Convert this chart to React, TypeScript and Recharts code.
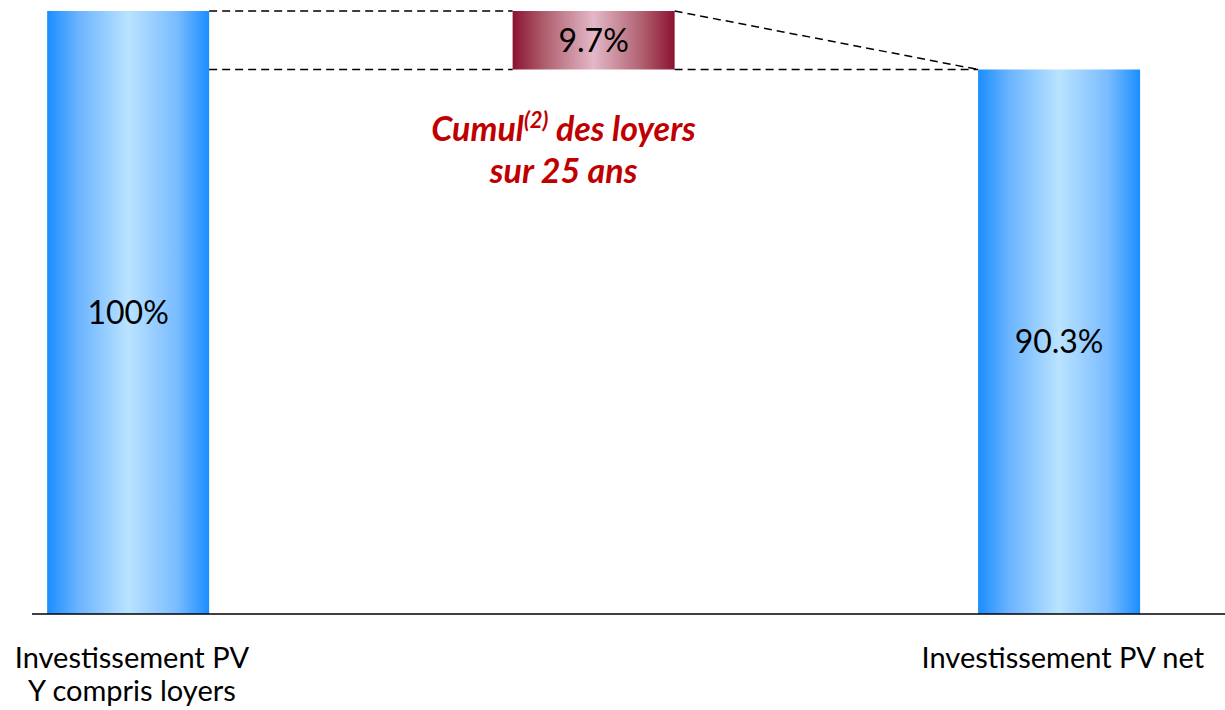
import { BarChart, Bar, XAxis, YAxis, LabelList } from 'recharts';

const CATEGORIES = ['Investissement PV\nY compris loyers', '', 'Investissement PV net'];
const BASES = [0, 90.3, 0];
const VALUES = [100, 9.7, 90.3];
const FILLS = ['blueBar', 'redBar', 'blueBar'];
const NOTE_TOP = ['Cumul', '(2)', ' des loyers'];
const NOTE_BOTTOM = 'sur 25 ans';

const W = 1225;
const H = 710;
const LEFT = 32;
const PLOT_W = W - LEFT;
const X_DOMAIN: [number, number] = [-0.206, 2.357];
const STEP = PLOT_W / (X_DOMAIN[1] - X_DOMAIN[0]);
const FONT = 'Lato, "Open Sans", sans-serif';

const data = CATEGORIES.map((name, i) => ({
  x: i,
  name,
  base: BASES[i],
  value: VALUES[i],
}));

function StepBar(props: any) {
  const { x, y, width, height, index } = props;
  const gap = STEP - width;
  const noteX = x + width / 2 - 30;
  return (
    <g>
      <rect x={x} y={y} width={width} height={height} fill={`url(#${FILLS[index]})`} />
      {index === 1 && (
        <g>
          <g stroke="#000" strokeWidth={1.5} strokeDasharray="8 5" fill="none">
            <line x1={x - gap} y1={y} x2={x} y2={y} />
            <line x1={x - gap} y1={y + height} x2={x} y2={y + height} />
            <line x1={x + width} y1={y + height} x2={x + width + gap} y2={y + height} />
            <line x1={x + width} y1={y} x2={x + width + gap} y2={y + height} />
          </g>
          <text
            x={noteX}
            y={y + height + 72}
            textAnchor="middle"
            fill="#C00000"
            fontFamily={FONT}
            fontWeight="bold"
            fontStyle="italic"
            fontSize={34}
          >
            <tspan>{NOTE_TOP[0]}</tspan>
            <tspan fontSize={22} dy={-13}>{NOTE_TOP[1]}</tspan>
            <tspan dy={13}>{NOTE_TOP[2]}</tspan>
          </text>
          <text
            x={noteX}
            y={y + height + 114}
            textAnchor="middle"
            fill="#C00000"
            fontFamily={FONT}
            fontWeight="bold"
            fontStyle="italic"
            fontSize={34}
          >
            {NOTE_BOTTOM}
          </text>
        </g>
      )}
    </g>
  );
}

function CategoryTick(props: any) {
  const { x, y, payload } = props;
  const lines = String(CATEGORIES[payload.value] ?? '').split('\n');
  return (
    <text x={x} y={y} textAnchor="middle" fill="#000" fontFamily={FONT} fontSize={29}>
      {lines.map((line, i) => (
        <tspan key={i} x={x + 4} dy={i === 0 ? 46 : 33}>
          {line}
        </tspan>
      ))}
    </text>
  );
}

export default function App() {
  return (
    <div style={{ position: 'absolute', left: 0, top: 0, width: W, height: H, background: '#fff', fontFamily: FONT }}>
      <BarChart width={W} height={H} data={data} margin={{ top: 11, right: 0, left: LEFT, bottom: 0 }}>
        <defs>
          <linearGradient id="blueBar" x1="0" y1="0" x2="1" y2="0">
            <stop offset="0" stopColor="#1A8EFF" />
            <stop offset="0.2" stopColor="#6DB5FF" />
            <stop offset="0.5" stopColor="#BAE3FF" />
            <stop offset="0.8" stopColor="#7ABCFF" />
            <stop offset="1" stopColor="#1A8EFF" />
          </linearGradient>
          <linearGradient id="redBar" x1="0" y1="0" x2="1" y2="0">
            <stop offset="0" stopColor="#8C1232" />
            <stop offset="0.2" stopColor="#B0606F" />
            <stop offset="0.5" stopColor="#E3B8C8" />
            <stop offset="0.8" stopColor="#B0606F" />
            <stop offset="1" stopColor="#8C1232" />
          </linearGradient>
        </defs>
        <XAxis
          dataKey="x"
          type="number"
          domain={X_DOMAIN}
          ticks={[0, 1, 2]}
          tick={<CategoryTick />}
          tickLine={false}
          axisLine={{ stroke: '#000', strokeWidth: 1.5 }}
          height={H - 614}
          allowDataOverflow
        />
        <YAxis hide domain={[0, 100]} />
        <Bar dataKey="base" stackId="a" fill="transparent" barSize={162} isAnimationActive={false} />
        <Bar dataKey="value" stackId="a" barSize={162} shape={<StepBar />} isAnimationActive={false}>
          <LabelList
            dataKey="value"
            position="center"
            formatter={(v: any) => `${v}%`}
            fill="#000"
            fontFamily={FONT}
            fontSize={32}
          />
        </Bar>
      </BarChart>
    </div>
  );
}
